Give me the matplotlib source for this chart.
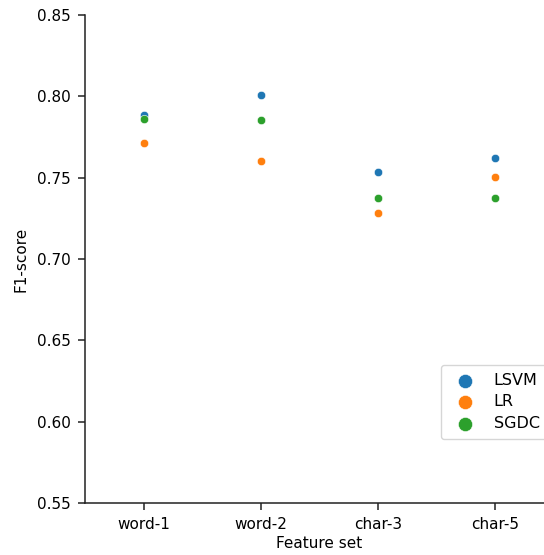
import numpy as np
import matplotlib
matplotlib.use("Agg")
from matplotlib import pyplot as plt

features = ["word-1", "word-2", "char-3", "char-5"]
models = ["LSVM", "LR", "SGDC"]
lsvm = [0.7885, 0.8008, 0.7537, 0.7619]
lr = [0.7713, 0.7603, 0.7285, 0.7504]
sgdc = [0.7859, 0.7857, 0.7377, 0.7377]
colors = ["#1f77b4", "#ff7f0e", "#2ca02c"]

fig = plt.figure(figsize=(5.44, 5.55), dpi=100)
ax = fig.add_axes([85 / 544, 52 / 555, 469 / 544, 488 / 555])

x = np.arange(len(features))
for name, vals, c in zip(models, [lsvm, lr, sgdc], colors):
    ax.scatter(x, vals, s=36, color=c, label=name, edgecolors="white", linewidths=0.4, zorder=3)

ax.set_xlim(-0.5, 3.5)
ax.set_ylim(0.55, 0.85)
ax.set_xticks(x)
ax.set_xticklabels(features)
ax.set_yticks(np.arange(0.55, 0.851, 0.05))
ax.yaxis.set_major_formatter(matplotlib.ticker.FormatStrFormatter("%.2f"))
ax.tick_params(labelsize=11, length=5, width=1.1, pad=5, colors="#222222", labelcolor="black")
ax.set_xlabel("Feature set", fontsize=11, labelpad=3)
ax.set_ylabel("F1-score", fontsize=11, labelpad=6)
ax.spines["top"].set_visible(False)
ax.spines["right"].set_visible(False)
for s in ["left", "bottom"]:
    ax.spines[s].set_linewidth(1.1)
    ax.spines[s].set_color("#222222")

fig.legend(loc="upper left", bbox_to_anchor=(441 / 544, 1 - 365 / 555), borderaxespad=0,
           markerscale=1.7, fontsize=11.5, handletextpad=0.8, borderpad=0.5, labelspacing=0.4)

fig.savefig("out.png", dpi=100)
